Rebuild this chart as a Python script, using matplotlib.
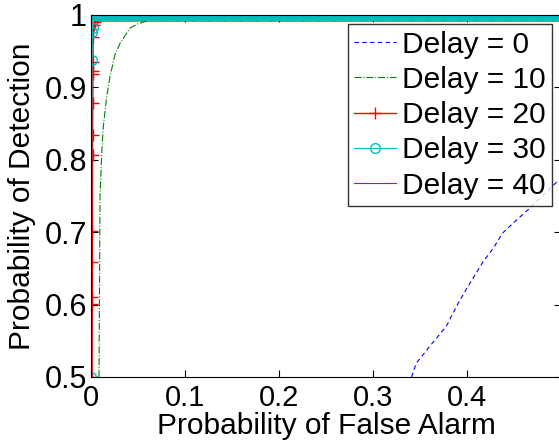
import numpy as np
import matplotlib
matplotlib.use('Agg')
import matplotlib.pyplot as plt

plt.rcParams['font.family'] = ['Liberation Sans', 'DejaVu Sans']

# ROC curves (false alarm, detection)
fa_0 = [0.341, 0.346, 0.362, 0.378, 0.389, 0.400, 0.417, 0.428, 0.438, 0.452, 0.465, 0.500, 0.550, 0.600, 0.700, 0.800, 0.900, 1.0]
pd_0 = [0.500, 0.519, 0.545, 0.570, 0.598, 0.623, 0.659, 0.678, 0.699, 0.716, 0.731, 0.775, 0.830, 0.870, 0.920, 0.960, 0.985, 1.0]

fa_10 = [0.0085, 0.0096, 0.0114, 0.0131, 0.0167, 0.0202, 0.0255, 0.0309, 0.0415, 0.0503, 0.08, 1.0]
pd_10 = [0.500, 0.749, 0.809, 0.846, 0.887, 0.915, 0.945, 0.961, 0.982, 0.988, 1.0, 1.0]

fa_20 = [0.0012, 0.0013, 0.0014, 0.0014, 0.0015, 0.0016, 0.0017, 0.0018, 0.0019, 0.0020,
         0.0021, 0.0023, 0.0030, 0.0045, 0.0060, 0.0100]
pd_20 = [0.500, 0.601, 0.611, 0.659, 0.701, 0.807, 0.834, 0.878, 0.918, 0.922,
         0.935, 0.970, 0.986, 0.990, 0.995, 1.0]

fa_30 = [0.0, 0.0010, 0.0014, 0.0016, 0.0030]
pd_30 = [0.500, 0.938, 0.977, 0.982, 1.0]

fa_40 = [0.0, 0.0, 0.001]
pd_40 = [0.5, 0.999, 1.0]

# false alarm grid of the flat part (detection = 1)
fa_top = np.arange(0.005, 1.0001, 0.001)

fig = plt.figure(figsize=(5.59, 4.43), dpi=100)
ax = fig.add_axes([0.1628, 0.149, 0.8408, 0.8172])

ax.plot(fa_0, pd_0, 'b--', lw=0.8, dashes=(4, 3), label='Delay = 0')
ax.plot(fa_10, pd_10, color='#008000', ls='-.', lw=0.8, label='Delay = 10')
ax.plot(fa_20 + list(fa_top), pd_20 + [1.0] * len(fa_top), 'r-', marker='+',
        ms=8, lw=1.0, label='Delay = 20')
ax.plot(fa_30 + list(fa_top), pd_30 + [1.0] * len(fa_top), color='#00BFBF',
        marker='o', mfc='none', ms=7, mew=1.0, lw=0.8, label='Delay = 30')
ax.plot(fa_40 + list(fa_top), pd_40 + [1.0] * len(fa_top), color='#BF00BF',
        lw=0.8, label='Delay = 40')

ax.set_xlim(0, 0.5)
ax.set_ylim(0.5, 1.0)
ax.set_xticks([0, 0.1, 0.2, 0.3, 0.4, 0.5])
ax.set_xticklabels(['0', '0.1', '0.2', '0.3', '0.4', ''])
ax.set_yticks([0.5, 0.6, 0.7, 0.8, 0.9, 1.0])
ax.set_yticklabels(['0.5', '0.6', '0.7', '0.8', '0.9', '1'])
ax.tick_params(direction='in', top=True, right=True, labelsize=22, length=5)
ax.tick_params(axis='x', labelsize=21, pad=5)
ax.tick_params(axis='y', pad=3)

ax.set_xlabel('Probability of False Alarm', fontsize=21.5, labelpad=0)
ax.set_ylabel('Probability of Detection', fontsize=21.5, labelpad=6)

leg = ax.legend(loc='upper right', fontsize=21.5, frameon=True, fancybox=False,
                edgecolor='black', handlelength=1.4, handletextpad=0.2,
                labelspacing=0.245, borderpad=0.22, borderaxespad=0.3)
leg.get_frame().set_linewidth(1.0)

fig.savefig('out.png', dpi=100)
